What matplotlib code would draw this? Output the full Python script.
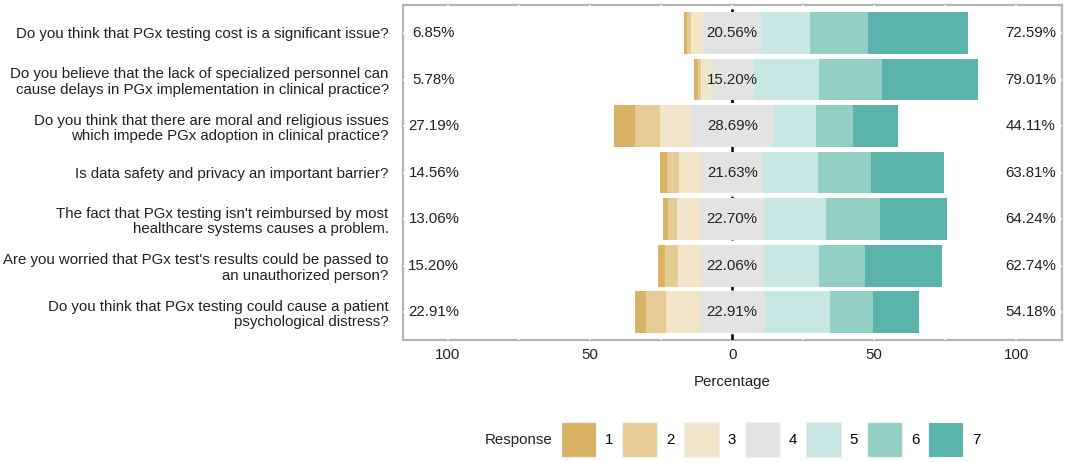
import matplotlib.pyplot as plt
from matplotlib.patches import Patch
import numpy as np

plt.rcParams['font.family'] = ['Liberation Sans', 'DejaVu Sans']

# survey items, top to bottom
questions = [
    "Do you think that PGx testing cost is a significant issue?",
    "Do you believe that the lack of specialized personnel can\ncause delays in PGx implementation in clinical practice?",
    "Do you think that there are moral and religious issues\nwhich impede PGx adoption in clinical practice?",
    "Is data safety and privacy an important barrier?",
    "The fact that PGx testing isn't reimbursed by most\nhealthcare systems causes a problem.",
    "Are you worried that PGx test's results could be passed to\nan unauthorized person?",
    "Do you think that PGx testing could cause a patient\npsychological distress?",
]

# percentage per response level (1..7)
r1 = [1.14, 1.37, 7.40, 2.50, 1.90, 2.70, 4.20]
r2 = [1.37, 1.14, 8.90, 4.00, 3.10, 4.40, 6.80]
r3 = [4.34, 3.27, 10.89, 8.06, 8.06, 8.10, 11.91]
r4 = [20.56, 15.20, 28.69, 21.63, 22.70, 22.06, 22.91]
r5 = [17.12, 22.90, 15.30, 19.40, 21.80, 19.40, 23.10]
r6 = [20.32, 22.10, 12.80, 18.50, 18.70, 16.30, 15.10]
r7 = [35.15, 34.01, 16.01, 25.91, 23.74, 27.04, 15.98]

low_pct = ["6.85%", "5.78%", "27.19%", "14.56%", "13.06%", "15.20%", "22.91%"]
mid_pct = ["20.56%", "15.20%", "28.69%", "21.63%", "22.70%", "22.06%", "22.91%"]
high_pct = ["72.59%", "79.01%", "44.11%", "63.81%", "64.24%", "62.74%", "54.18%"]

levels = ['1', '2', '3', '4', '5', '6', '7']
colors = ['#D8B365', '#E6CB97', '#F3E5CA', '#E3E3E3', '#C8E6E3', '#94CFC6', '#5AB4AC']

data = np.array([r1, r2, r3, r4, r5, r6, r7]).T
y = np.arange(len(questions))
start = -(data[:, 0] + data[:, 1] + data[:, 2] + data[:, 3] / 2)

fs = 10.8
txt = '#222222'

fig = plt.figure(figsize=(10.65, 4.62), dpi=100)
ax = fig.add_axes([0.378, 0.264, 0.619, 0.725])

left = start.copy()
for i in range(7):
    ax.barh(y, data[:, i], left=left, height=0.9, color=colors[i], zorder=1)
    left = left + data[:, i]

ax.axvline(0, color='black', lw=1.8, ls=(0, (2.5, 2.5)), zorder=0.8)

for yi in y:
    ax.text(-105, yi, low_pct[yi], ha='center', va='center', fontsize=fs, color=txt, zorder=3)
    ax.text(0, yi, mid_pct[yi], ha='center', va='center', fontsize=fs, color=txt, zorder=3)
    ax.text(105, yi, high_pct[yi], ha='center', va='center', fontsize=fs, color=txt, zorder=3)

ax.set_xlim(-116, 116)
ax.set_ylim(len(questions) - 0.4, -0.6)
ax.set_xticks([-100, -50, 0, 50, 100])
ax.set_xticklabels(['100', '50', '0', '50', '100'])
ax.set_xticks([-75, -25, 25, 75], minor=True)
ax.set_yticks(y)
ax.set_yticklabels(questions, multialignment='right', linespacing=1.15)
ax.tick_params(axis='both', which='both', length=0, labelsize=fs, colors=txt)
ax.tick_params(axis='y', pad=10)
ax.tick_params(axis='x', pad=6)
ax.set_xlabel('Percentage', fontsize=fs, color=txt, labelpad=9)

ax.set_axisbelow(True)
ax.grid(True, which='both', color='white', lw=1.3)
for s in ax.spines.values():
    s.set_color('#B5B5B5')
    s.set_linewidth(1.6)
    s.set_zorder(0.3)

handles = [Patch(facecolor=c, edgecolor='#F2F2F2', lw=0.8) for c in colors]
fig.legend(handles, levels, ncol=7, loc='center left', bbox_to_anchor=(0.527, 0.048),
           frameon=False, fontsize=fs, handlelength=2.33, handleheight=3.2,
           handletextpad=0.6, columnspacing=0.59, borderpad=0, borderaxespad=0)
fig.text(0.455, 0.048, 'Response', ha='left', va='center', fontsize=fs, color=txt)

fig.savefig('out.png', dpi=100)
